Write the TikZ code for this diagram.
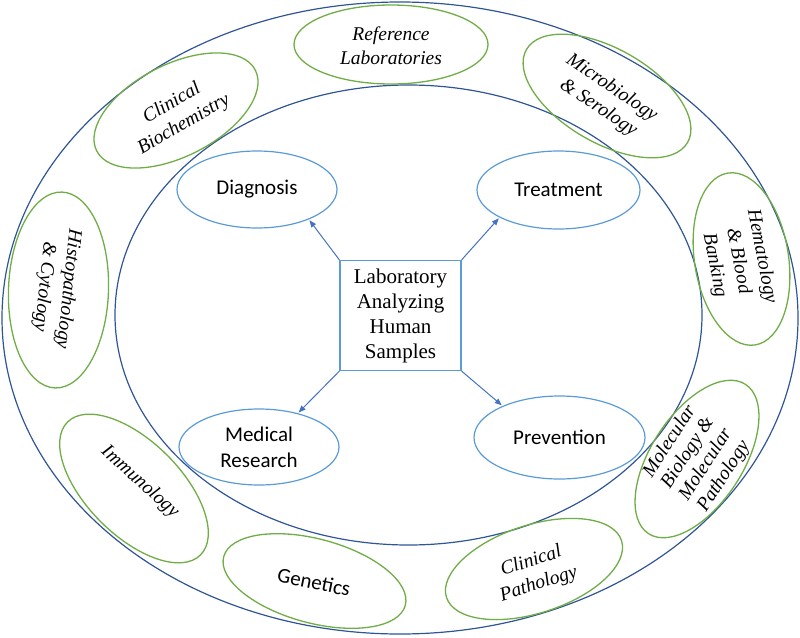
\documentclass[tikz,border=0pt]{standalone}
\usepackage{fontspec}
\setmainfont{Liberation Serif}
\newfontfamily\calibri{Carlito}
\usetikzlibrary{shapes.geometric,arrows.meta}
\definecolor{ringblue}{HTML}{2F5597}
\definecolor{lightblue}{HTML}{5B9BD5}
\definecolor{leafgreen}{HTML}{70AD47}
\definecolor{arrowblue}{HTML}{4472C4}
\begin{document}
\begin{tikzpicture}[x=1pt,y=-1pt,
 ring/.style={ellipse, draw=ringblue, line width=1.2pt, inner sep=0pt},
 usebox/.style={ellipse, draw=lightblue, line width=1.2pt, inner sep=0pt, font=\calibri\fontsize{21}{26}\selectfont, align=center},
 fieldell/.style={ellipse, draw=leafgreen, line width=1.3pt, inner sep=0pt},
 fieldtxt/.style={font=\itshape\fontsize{19.5}{24}\selectfont, align=center, inner sep=0pt},
 centerbox/.style={draw=lightblue, line width=1.2pt, font=\fontsize{21}{25}\selectfont, align=center, minimum width=121pt, minimum height=110pt, inner sep=0pt},
 arr/.style={-{Triangle[length=7pt,width=5.5pt]}, draw=arrowblue, line width=1pt, shorten >=1pt}]
\useasboundingbox (0,0) rectangle (800,637);

% rings
\node[ring, minimum width=796pt, minimum height=632pt] (outer) at (400,318) {};
\node[ring, minimum width=587pt, minimum height=460pt] (inner) at (408.5,315) {};

% centre box
\node[centerbox] (lab) at (400.5,315.5) {Laboratory\\Analyzing\\Human\\Samples};

% uses
\node[usebox, minimum width=160pt, minimum height=77pt] (diag) at (257,189.5) {Diagnosis};
\node[usebox, minimum width=163pt, minimum height=78pt] (treat) at (558.5,190) {Treatment};
\node[usebox, minimum width=160pt, minimum height=76pt] (medres) at (259,447) {Medical\\Research};
\node[usebox, minimum width=171pt, minimum height=83pt] (prev) at (559.5,437.5) {Prevention};

\draw[arr] (lab.north west) -- (diag.-30);
\draw[arr] (lab.north east) -- (treat.205);
\draw[arr] (lab.south west) -- (medres.41);
\draw[arr] (lab.south east) -- (prev.151);

% fields
\node[fieldell, minimum width=194pt, minimum height=79pt] (ref) at (391,44.5) {};
\node[fieldtxt] (reft) at (391,46) {Reference\\Laboratories};

\node[fieldell, minimum width=178pt, minimum height=92pt, rotate=27] (cbio) at (176,110.5) {};
\node[fieldtxt, rotate=30] (cbiot) at (178,114) {Clinical\\Biochemistry};

\node[fieldell, minimum width=186pt, minimum height=94pt, rotate=-30] (micro) at (607,96) {};
\node[fieldtxt, rotate=-34] (microt) at (605,98) {Microbiology\\\& Serology};

\node[fieldell, minimum width=174pt, minimum height=94pt, rotate=-81] (hema) at (741.5,259) {};
\node[fieldtxt, rotate=-79] (hemat) at (738,261) {Hematology\\\& Blood\\Banking};

\node[fieldell, minimum width=178pt, minimum height=92pt, rotate=57] (mol) at (697,459) {};
\node[fieldtxt, rotate=57, font=\itshape\fontsize{19.5}{21.5}\selectfont] (molt) at (697,459) {Molecular\\Biology \&\\Molecular\\Pathology};

\node[fieldell, minimum width=184pt, minimum height=88pt, rotate=18] (cpath) at (534,569) {};
\node[fieldtxt, rotate=18] (cpatht) at (535,573) {Clinical\\Pathology};

\node[fieldell, minimum width=188pt, minimum height=84pt, rotate=-15] (gen) at (314.5,581) {};
\node[font=\calibri\fontsize{21}{26}\selectfont, rotate=-11.5, inner sep=0pt] (gent) at (314,582) {Genetics};

\node[fieldell, minimum width=188pt, minimum height=94pt, rotate=-45] (immu) at (134,488.5) {};
\node[fieldtxt, rotate=-42] (immut) at (140,482) {Immunology};

\node[fieldell, minimum width=196pt, minimum height=100pt, rotate=88] (histo) at (58.5,290) {};
\node[fieldtxt, rotate=-96] (histot) at (56,288) {Histopathology\\\& Cytology};
\end{tikzpicture}
\end{document}
